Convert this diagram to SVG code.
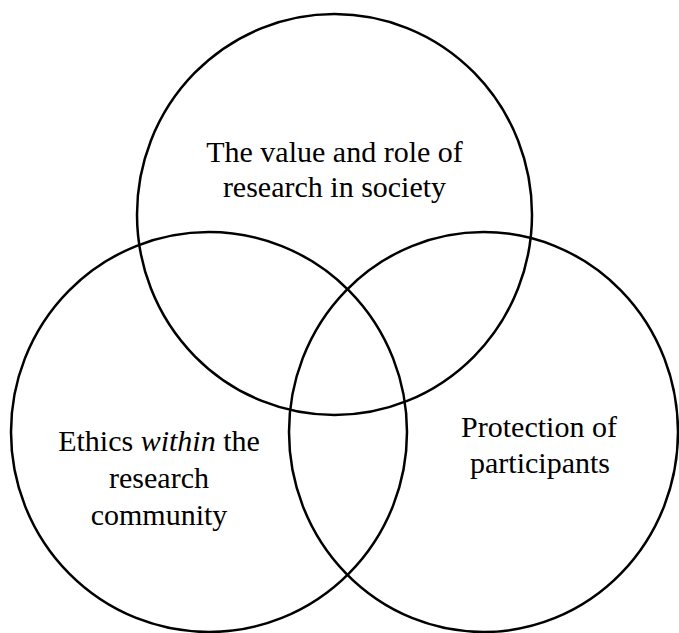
<svg xmlns="http://www.w3.org/2000/svg" width="679" height="633" viewBox="0 0 679 633">
  <style>
    .ring { fill: none; stroke: #000; stroke-width: 2.5; }
    .label { font-family: "Liberation Serif", "Times New Roman", serif; font-size: 30px; fill: #000; text-anchor: middle; }
    .em { font-style: italic; }
  </style>
  <rect width="679" height="633" fill="#fff"/>
  <!-- three overlapping sets -->
  <g id="society">
    <ellipse class="ring" cx="334.5" cy="214.5" rx="197.5" ry="200.5"/>
    <text class="label" x="334.5" y="162">The value and role of</text>
    <text class="label" x="334.5" y="197">research in society</text>
  </g>
  <g id="community">
    <ellipse class="ring" cx="209" cy="432" rx="198" ry="200"/>
    <text class="label" x="159" y="451">Ethics <tspan class="em">within</tspan> the</text>
    <text class="label" x="159" y="488">research</text>
    <text class="label" x="159" y="525">community</text>
  </g>
  <g id="participants">
    <ellipse class="ring" cx="483.5" cy="432" rx="194.5" ry="200"/>
    <text class="label" x="539" y="437">Protection of</text>
    <text class="label" x="540" y="473">participants</text>
  </g>
  <g id="connectors"/>
</svg>
